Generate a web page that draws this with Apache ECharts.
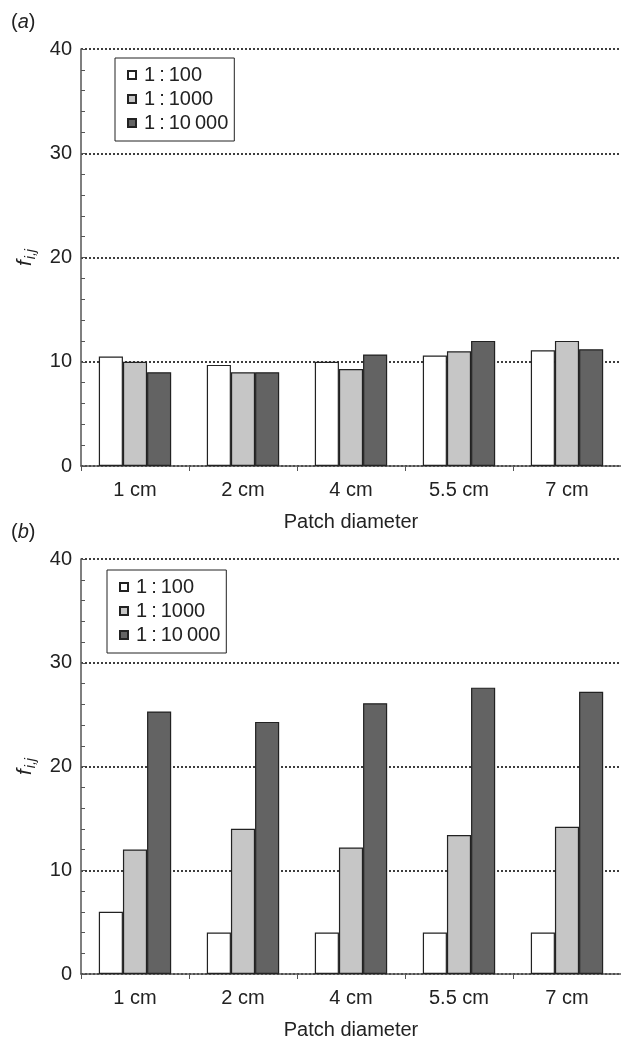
<!DOCTYPE html>
<html>
<head>
    <meta charset='utf-8'>
    <script src='https://cdn.jsdelivr.net/npm/echarts@6/dist/echarts.min.js'></script>
    <style>
        html, body, #main {
            width: 100%;
            height: 100%;
            margin: 0;
            background: #fff;
        }
    </style>
</head>
<body>

<div id='main'></div>
<script>
    // patch sizes
    var categories = ['1 cm', '2 cm', '4 cm', '5.5 cm', '7 cm'];
    var ratios = ['1\u2009:\u2009100', '1\u2009:\u20091000', '1\u2009:\u200910\u2009000'];
    var yTicks = [0, 40, 10];   // min, max, interval

    // panel (a)
    var a100   = [10.5, 9.7, 10.0, 10.6, 11.1];
    var a1000  = [10.0, 9.0, 9.3, 11.0, 12.0];
    var a10000 = [9.0, 9.0, 10.7, 12.0, 11.2];

    // panel (b)
    var b100   = [6, 4, 4, 4, 4];
    var b1000  = [12.0, 14.0, 12.2, 13.4, 14.2];
    var b10000 = [25.3, 24.3, 26.1, 27.6, 27.2];

    var colors = ['#ffffff', '#c6c6c6', '#636363'];
    var font = '"Liberation Sans", Arial, sans-serif';
    var ink = '#222';

    var myChart = echarts.init(document.getElementById('main'));

    function yAxis(idx) {
        return {
            type: 'value',
            gridIndex: idx,
            min: yTicks[0],
            max: yTicks[1],
            interval: yTicks[2],
            name: '{f|f}{s|i,j}',
            nameLocation: 'middle',
            nameGap: 43,
            nameTextStyle: {
                rich: {
                    f: { fontFamily: font, fontStyle: 'italic', fontSize: 21, color: ink },
                    s: { fontFamily: font, fontStyle: 'italic', fontSize: 14, color: ink, padding: [12, 0, 0, 1] }
                }
            },
            axisLine: { show: true, lineStyle: { color: '#555', width: 1.5 } },
            axisTick: { show: true, inside: true, length: 4, lineStyle: { color: '#555' } },
            minorTick: { show: true, splitNumber: 5, length: 4, lineStyle: { color: '#555' } },
            axisLabel: { fontFamily: font, fontSize: 20, color: ink, margin: 9 },
            splitLine: { show: true, lineStyle: { color: '#2a2a2a', type: [2, 2], width: 1.8 } }
        };
    }

    function xAxis(idx) {
        return {
            type: 'category',
            gridIndex: idx,
            data: categories,
            name: 'Patch diameter',
            nameLocation: 'middle',
            nameGap: 46,
            nameTextStyle: { fontFamily: font, fontSize: 20, color: ink },
            axisLine: { lineStyle: { color: '#555', width: 1.5 } },
            axisTick: { show: true, length: 5, lineStyle: { color: '#555' } },
            axisLabel: { fontFamily: font, fontSize: 20, color: ink, margin: 14 }
        };
    }

    function bars(idx, sets) {
        return sets.map(function (d, i) {
            return {
                name: ratios[i],
                type: 'bar',
                xAxisIndex: idx,
                yAxisIndex: idx,
                data: d,
                barGap: '0%',
                barCategoryGap: '33%',
                itemStyle: { color: colors[i], borderColor: ink, borderWidth: 1.2 },
                animation: false
            };
        });
    }

    function legend(left, top) {
        return {
            data: ratios,
            orient: 'vertical',
            left: left,
            top: top,
            icon: 'rect',
            itemWidth: 8,
            itemHeight: 8,
            itemGap: 4,
            padding: [7, 6, 8, 12],
            borderColor: ink,
            borderWidth: 1,
            backgroundColor: '#fff',
            selectedMode: false,
            textStyle: { fontFamily: font, fontSize: 20, color: ink, lineHeight: 20, padding: [0, 0, 0, 3] }
        };
    }

    function panelTitle(letter, top) {
        return {
            text: '({i|' + letter + '})', left: 6, top: top,
            textStyle: { fontFamily: font, fontSize: 20, fontWeight: 'normal', color: ink,
                         rich: { i: { fontFamily: font, fontSize: 20, fontStyle: 'italic', color: ink } } }
        };
    }

    myChart.setOption({
        backgroundColor: '#fff',
        title: [panelTitle('a', 7), panelTitle('b', 517)],
        legend: [legend(115, 58), legend(107, 570)],
        grid: [
            { left: 81, right: 0, top: 49, height: 417 },
            { left: 81, right: 0, top: 559, height: 417 }
        ],
        xAxis: [xAxis(0), xAxis(1)],
        yAxis: [yAxis(0), yAxis(1)],
        series: bars(0, [a100, a1000, a10000]).concat(bars(1, [b100, b1000, b10000]))
    });
</script>
</body>
</html>
